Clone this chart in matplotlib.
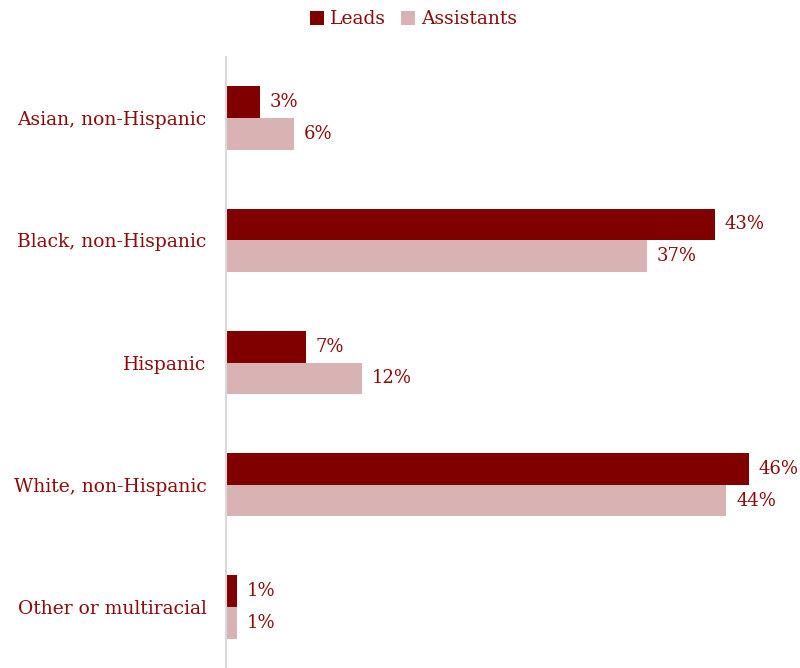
import matplotlib
matplotlib.use("Agg")
import matplotlib.pyplot as plt
import numpy as np

# data
categories = ["Asian, non-Hispanic", "Black, non-Hispanic", "Hispanic",
              "White, non-Hispanic", "Other or multiracial"]
leads = [3, 43, 7, 46, 1]
assistants = [6, 37, 12, 44, 1]

leadColor = "#800000"
asstColor = "#D9B3B3"
textColor = "#8B0A0A"

plt.rcParams['font.family'] = ['DejaVu Serif']

fig = plt.figure(figsize=(8, 6.68), dpi=100)
ax = fig.add_axes([226/800, 0, 574/800, 1 - 57/668])

y = np.arange(len(categories))
h = 0.26
b1 = ax.barh(y - h/2, leads, height=h, color=leadColor, label="Leads")
b2 = ax.barh(y + h/2, assistants, height=h, color=asstColor, label="Assistants")

# value labels
for bars in (b1, b2):
    for bar in bars:
        w = bar.get_width()
        ax.annotate(f"{w:g}%", (w, bar.get_y() + bar.get_height()/2),
                    xytext=(7, 0), textcoords="offset points",
                    va="center", ha="left", fontsize=13, color=textColor)

ax.set_xlim(0, 574/11.37)
ax.set_ylim(len(categories) - 0.5, -0.5)
ax.set_yticks(y)
ax.set_yticklabels(categories, fontsize=13.5, color=textColor)
ax.tick_params(axis="y", length=0, pad=14)
ax.set_xticks([])
for s in ["top", "right", "bottom"]:
    ax.spines[s].set_visible(False)
ax.spines["left"].set_color("#d9d9d9")
ax.spines["left"].set_linewidth(1.5)

leg = fig.legend(handles=[b1, b2], loc="upper center", bbox_to_anchor=(0.517, 1.01),
                 ncol=2, frameon=False, fontsize=13.5, handlelength=0.75, handleheight=0.75,
                 handletextpad=0.3, columnspacing=0.8)
for t in leg.get_texts():
    t.set_color(textColor)

fig.savefig("out.png", dpi=100)
